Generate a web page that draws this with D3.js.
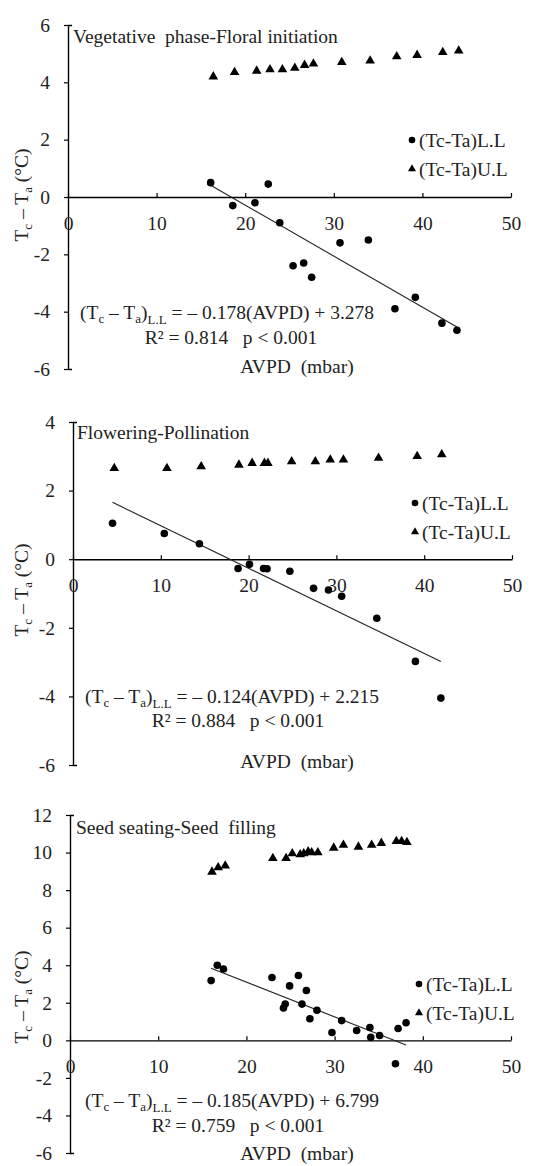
<!DOCTYPE html>
<html>
<head>
<meta charset="utf-8">
<script src="https://cdn.jsdelivr.net/npm/d3@7"></script>
<style>
  body { margin: 0; background: #fff; }
  svg { display: block; }
  svg text { font-family: "Liberation Serif", "DejaVu Serif", "Noto Serif", serif; fill: #222; }
</style>
</head>
<body>
<div class="grafico"></div>
<script>
// ---- data ----
const stageNames = ["Vegetative  phase-Floral initiation", "Flowering-Pollination", "Seed seating-Seed  filling"];

// vegetative phase - floral initiation
const veg_llX = [16.1, 18.6, 21.1, 22.6, 23.9, 25.4, 26.6, 27.5, 30.7, 33.9, 36.9, 39.2, 42.2, 43.9];
const veg_llY = [0.5, -0.3, -0.2, 0.45, -0.9, -2.4, -2.3, -2.8, -1.6, -1.5, -3.9, -3.5, -4.4, -4.65];
const veg_ulX = [16.4, 18.8, 21.3, 22.8, 24.2, 25.6, 26.7, 27.7, 30.9, 34.1, 37.1, 39.4, 42.3, 44.1];
const veg_ulY = [4.2, 4.35, 4.4, 4.45, 4.45, 4.5, 4.6, 4.65, 4.7, 4.75, 4.9, 4.95, 5.05, 5.1];

// flowering - pollination
const flo_llX = [4.5, 10.4, 14.4, 18.8, 20.1, 21.7, 22.1, 24.7, 27.4, 29.1, 30.6, 34.6, 39.0, 41.9];
const flo_llY = [1.05, 0.75, 0.45, -0.27, -0.15, -0.27, -0.28, -0.35, -0.85, -0.9, -1.08, -1.72, -2.98, -4.05];
const flo_ulX = [4.7, 10.7, 14.6, 18.9, 20.4, 21.8, 22.2, 24.9, 27.6, 29.3, 30.8, 34.8, 39.2, 42.0];
const flo_ulY = [2.65, 2.65, 2.7, 2.75, 2.8, 2.8, 2.8, 2.85, 2.85, 2.9, 2.9, 2.95, 3.0, 3.05];

// seed seating - seed filling
const seed_llX = [16.0, 16.7, 17.4, 22.9, 24.2, 24.4, 24.9, 25.9, 26.8, 26.3, 27.2, 28.0, 29.7, 30.8, 32.5, 34.0, 34.1, 35.1, 36.9, 37.2, 38.1];
const seed_llY = [3.18, 4.0, 3.8, 3.35, 1.72, 1.93, 2.9, 3.45, 2.65, 1.93, 1.15, 1.6, 0.42, 1.05, 0.52, 0.68, 0.16, 0.26, -1.25, 0.63, 0.94];
const seed_ulX = [16.1, 16.8, 17.6, 23.0, 24.5, 25.2, 26.1, 26.5, 27.0, 27.4, 28.1, 29.9, 31.0, 32.7, 34.2, 35.3, 37.0, 37.6, 38.2];
const seed_ulY = [8.97, 9.2, 9.3, 9.7, 9.7, 9.95, 9.9, 9.95, 10.05, 10.0, 10.0, 10.25, 10.4, 10.3, 10.4, 10.5, 10.6, 10.6, 10.55];

// fitted lower limit lines: slope, intercept, R2
const slopes = [-0.178, -0.124, -0.185];
const intercepts = [3.278, 2.215, 6.799];
const r2 = ["0.814", "0.884", "0.759"];

const xTicks = [0, 10, 20, 30, 40, 50];
const yTicks1 = [-6, -4, -2, 0, 2, 4, 6];
const yTicks2 = [-6, -4, -2, 0, 2, 4];
const yTicks3 = [-6, -4, -2, 0, 2, 4, 6, 8, 10, 12];

// ---- layout ----
const width = 534, height = 1166;
const panels = [
  { ll: [veg_llX, veg_llY], ul: [veg_ulX, veg_ulY], yTicks: yTicks1,
    left: 68, right: 511, top: 25, bottom: 369,
    title: [73, 36], legend: [412, 140], eq: [80, 312], r2: [231, 337], xlab: [297, 366], ylab: [21, 195] },
  { ll: [flo_llX, flo_llY], ul: [flo_ulX, flo_ulY], yTicks: yTicks2,
    left: 73, right: 512, top: 422, bottom: 765,
    title: [77, 432], legend: [415, 503], eq: [85, 696], r2: [238, 720], xlab: [297, 761], ylab: [21, 590] },
  { ll: [seed_llX, seed_llY], ul: [seed_ulX, seed_ulY], yTicks: yTicks3,
    left: 70, right: 511, top: 815, bottom: 1153,
    title: [76, 827], legend: [419, 984], eq: [85, 1100], r2: [238, 1125], xlab: [297, 1153], ylab: [21, 997] }
];

const svg = d3.select(".grafico")
  .append("svg")
  .attr("width", width)
  .attr("height", height);

const tri = d3.symbol().type(d3.symbolTriangle).size(40);
const fs = "19.5px", sub = "13px";

panels.forEach((p, i) => {
  const yDom = d3.extent(p.yTicks);
  const x = d3.scaleLinear().domain([0, 50]).range([p.left, p.right]);
  const y = d3.scaleLinear().domain(yDom).range([p.bottom, p.top]);
  const g = svg.append("g");

  // y axis
  const yAxis = g.append("g")
    .attr("transform", `translate(${p.left},0)`)
    .call(d3.axisLeft(y).tickValues(p.yTicks).tickFormat(d => String(d))
      .tickSizeInner(4).tickSizeOuter(-4).tickPadding(14));
  // x axis at y = 0
  const xAxis = g.append("g")
    .attr("transform", `translate(0,${y(0)})`)
    .call(d3.axisBottom(x).tickValues(xTicks).tickFormat(d => String(d))
      .tickSizeInner(-4).tickSizeOuter(0).tickPadding(19));

  [yAxis, xAxis].forEach(a => {
    a.attr("font-family", null);
    a.select(".domain").attr("stroke", "#000").attr("stroke-width", 1.4);
    a.selectAll(".tick line").attr("stroke", "#000").attr("stroke-width", 1.2);
    a.selectAll(".tick text").attr("fill", "#222").style("font-size", fs);
  });
  xAxis.selectAll(".tick text").attr("dy", "0.35em").attr("y", 26);

  // fitted line over the L.L range
  const ext = d3.extent(p.ll[0]);
  g.append("line")
    .attr("x1", x(ext[0])).attr("y1", y(slopes[i] * ext[0] + intercepts[i]))
    .attr("x2", x(ext[1])).attr("y2", y(slopes[i] * ext[1] + intercepts[i]))
    .attr("stroke", "#222").attr("stroke-width", 1.1);

  // lower limit points
  g.selectAll(".ll").data(d3.zip(p.ll[0], p.ll[1])).enter()
    .append("circle")
    .attr("cx", d => x(d[0])).attr("cy", d => y(d[1]))
    .attr("r", 3.8).attr("fill", "#000");

  // upper limit points
  g.selectAll(".ul").data(d3.zip(p.ul[0], p.ul[1])).enter()
    .append("path")
    .attr("d", tri)
    .attr("transform", d => `translate(${x(d[0])},${y(d[1])})`)
    .attr("fill", "#000");

  // stage title
  g.append("text")
    .attr("x", p.title[0]).attr("y", p.title[1]).attr("dy", "0.35em")
    .style("font-size", fs).style("white-space", "pre")
    .text(stageNames[i]);

  // legend
  const lg = g.append("g").attr("transform", `translate(${p.legend[0]},${p.legend[1]})`);
  lg.append("circle").attr("cx", 0).attr("cy", 0).attr("r", 3.3).attr("fill", "#000");
  lg.append("path").attr("d", d3.symbol().type(d3.symbolTriangle).size(28))
    .attr("transform", "translate(0,29)").attr("fill", "#000");
  lg.selectAll("text").data(["(Tc-Ta)L.L", "(Tc-Ta)U.L"]).enter()
    .append("text")
    .attr("x", 7).attr("y", (d, k) => k * 29).attr("dy", "0.35em")
    .style("font-size", fs)
    .text(d => d);

  // equation
  const eq = g.append("text")
    .attr("x", p.eq[0]).attr("y", p.eq[1]).attr("dy", "0.35em")
    .style("font-size", fs);
  eq.append("tspan").text("(T");
  eq.append("tspan").attr("dy", 4).style("font-size", sub).text("c");
  eq.append("tspan").attr("dy", -4).text(" – T");
  eq.append("tspan").attr("dy", 4).style("font-size", sub).text("a");
  eq.append("tspan").attr("dy", -4).text(")");
  eq.append("tspan").attr("dy", 5).style("font-size", sub).text("L.L");
  eq.append("tspan").attr("dy", -5)
    .text(` = – ${Math.abs(slopes[i]).toFixed(3)}(AVPD) + ${intercepts[i].toFixed(3)}`);

  g.append("text")
    .attr("x", p.r2[0]).attr("y", p.r2[1]).attr("dy", "0.35em")
    .attr("text-anchor", "middle").style("font-size", fs).style("white-space", "pre")
    .text(`R² = ${r2[i]}   p < 0.001`);

  g.append("text")
    .attr("x", p.xlab[0]).attr("y", p.xlab[1]).attr("dy", "0.35em")
    .attr("text-anchor", "middle").style("font-size", fs)
    .style("white-space", "pre").text("AVPD  (mbar)");

  // y title
  const yl = g.append("text")
    .attr("transform", `translate(${p.ylab[0]},${p.ylab[1]}) rotate(-90)`)
    .attr("text-anchor", "middle").attr("dy", "0.35em")
    .style("font-size", fs);
  yl.append("tspan").text("T");
  yl.append("tspan").attr("dy", 4).style("font-size", sub).text("c");
  yl.append("tspan").attr("dy", -4).text(" – T");
  yl.append("tspan").attr("dy", 4).style("font-size", sub).text("a");
  yl.append("tspan").attr("dy", -4).text(" (°C)");
});
</script>
</body>
</html>
